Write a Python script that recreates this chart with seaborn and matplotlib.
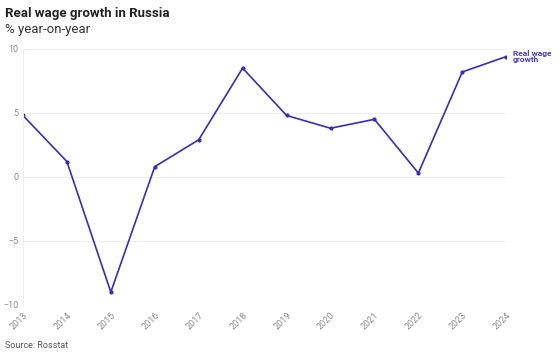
import matplotlib
matplotlib.use("Agg")
import matplotlib.pyplot as plt
import seaborn as sns
import pandas as pd

# data
years = [2013, 2014, 2015, 2016, 2017, 2018, 2019, 2020, 2021, 2022, 2023, 2024]
wage_growth = [4.8, 1.2, -9.0, 0.8, 2.9, 8.5, 4.8, 3.8, 4.5, 0.3, 8.2, 9.4]
y_ticks = [-10, -5, 0, 5, 10]

df = pd.DataFrame({"year": years, "growth": wage_growth})

sns.set_style("white")
plt.rcParams["font.family"] = ["Roboto", "DejaVu Sans"]

line_col = "#3b2db0"

fig = plt.figure(figsize=(5.6, 3.57), dpi=100)
ax = fig.add_axes([0.041, 0.146, 0.863, 0.717])

sns.lineplot(data=df, x="year", y="growth", ax=ax, color=line_col, linewidth=1.2,
             marker="o", markersize=3, markeredgewidth=0)

ax.set_xlim(2013, 2024)
ax.set_ylim(-10, 10)
ax.set_yticks(y_ticks)
ax.set_xticks(years)
ax.set_xticklabels([str(y) for y in years], rotation=45, ha="right", va="top",
                   rotation_mode="anchor")
ax.tick_params(axis="both", labelsize=6.5, colors="#8a8a8a", length=0, pad=3)
ax.tick_params(axis="x", pad=4)
ax.grid(axis="y", color="#eeeeee", linewidth=0.8)
for s in ["top", "right", "bottom"]:
    ax.spines[s].set_visible(False)
ax.spines["left"].set_color("#eeeeee")
ax.spines["left"].set_linewidth(0.8)
ax.set_xlabel("")
ax.set_ylabel("")

ax.annotate("Real wage\ngrowth", xy=(years[-1], wage_growth[-1]), xytext=(5, 0),
            textcoords="offset points", fontsize=6, fontweight="bold",
            color="#4a3cc2", va="center", ha="left", linespacing=0.9,
            annotation_clip=False)

fig.text(0.009, 0.962, "Real wage growth in Russia", fontsize=9.5, fontweight="bold",
         color="#222222", va="center")
fig.text(0.009, 0.918, "% year-on-year", fontsize=9.5, color="#333333", va="center")
fig.text(0.009, 0.031, "Source: Rosstat", fontsize=6.5, color="#555555", va="center")

fig.savefig("out.png", dpi=100)
